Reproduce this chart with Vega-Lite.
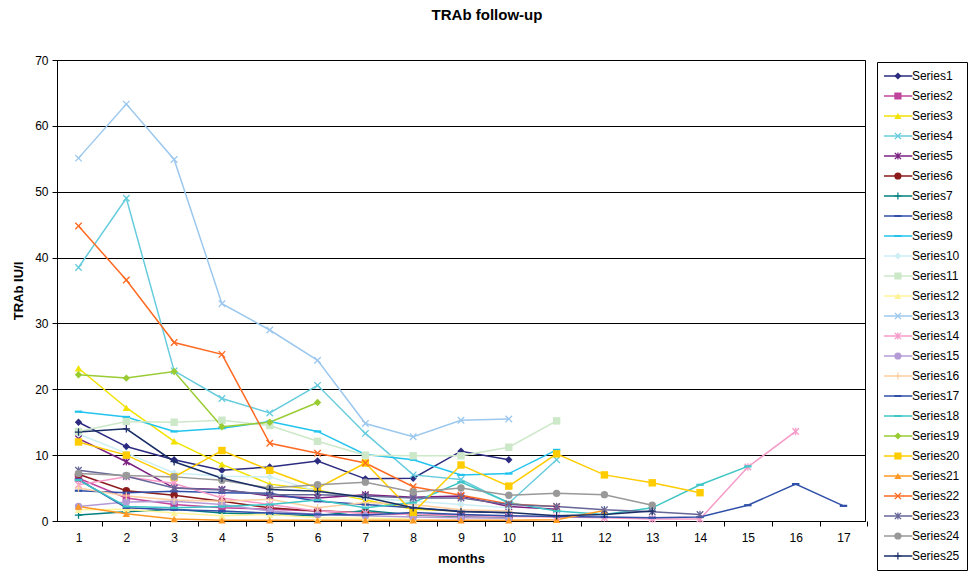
{
"$schema":"https://vega.github.io/schema/vega-lite/v6.json",
"autosize":"none",
"width":808,"height":461,
"padding":{"left":57,"top":60,"right":109,"bottom":51},
"background":"white",
"title":{"text":"TRAb follow-up","fontSize":15,"fontWeight":"bold","font":"Liberation Sans","anchor":"middle","dx":26,"offset":31,"color":"#000"},
"config":{"view":{"stroke":"#000","strokeWidth":1},"font":"Liberation Sans",
"legend":{"title":null,"orient":"none","legendX":820,"legendY":2,"padding":7,"labelFontSize":12,"labelColor":"#000","labelFont":"Liberation Sans","symbolSize":52,"rowPadding":6,"clipHeight":14,"labelOffset":8,"symbolOffset":7.9,"labelLimit":200}},
"datasets":{"d":[
{"s":"Series1","m":1,"v":15.0},{"s":"Series1","m":2,"v":11.3},{"s":"Series1","m":3,"v":9.3},{"s":"Series1","m":4,"v":7.7},{"s":"Series1","m":5,"v":8.2},{"s":"Series1","m":6,"v":9.1},{"s":"Series1","m":7,"v":6.4},{"s":"Series1","m":8,"v":6.5},{"s":"Series1","m":9,"v":10.6},{"s":"Series1","m":10,"v":9.3},
{"s":"Series2","m":1,"v":6.5},{"s":"Series2","m":2,"v":3.5},{"s":"Series2","m":3,"v":2.5},{"s":"Series2","m":4,"v":2.0},{"s":"Series2","m":5,"v":1.8},{"s":"Series2","m":6,"v":1.5},{"s":"Series2","m":7,"v":1.2},{"s":"Series2","m":8,"v":1.0},{"s":"Series2","m":9,"v":0.8},{"s":"Series2","m":10,"v":0.7},
{"s":"Series3","m":1,"v":23.2},{"s":"Series3","m":2,"v":17.2},{"s":"Series3","m":3,"v":12.1},{"s":"Series3","m":4,"v":8.6},{"s":"Series3","m":5,"v":5.6},{"s":"Series3","m":6,"v":4.7},{"s":"Series3","m":7,"v":3.2},{"s":"Series3","m":8,"v":1.8},{"s":"Series3","m":9,"v":1.5},
{"s":"Series4","m":1,"v":38.5},{"s":"Series4","m":2,"v":49.0},{"s":"Series4","m":3,"v":22.8},{"s":"Series4","m":4,"v":18.6},{"s":"Series4","m":5,"v":16.4},{"s":"Series4","m":6,"v":20.6},{"s":"Series4","m":7,"v":13.3},{"s":"Series4","m":8,"v":7.0},{"s":"Series4","m":9,"v":6.3},{"s":"Series4","m":10,"v":2.7},{"s":"Series4","m":11,"v":9.3},
{"s":"Series5","m":1,"v":12.5},{"s":"Series5","m":2,"v":9.0},{"s":"Series5","m":3,"v":5.0},{"s":"Series5","m":4,"v":4.8},{"s":"Series5","m":5,"v":3.8},{"s":"Series5","m":6,"v":3.5},{"s":"Series5","m":7,"v":4.0},{"s":"Series5","m":8,"v":3.6},{"s":"Series5","m":9,"v":3.8},{"s":"Series5","m":10,"v":2.2},{"s":"Series5","m":11,"v":1.8},
{"s":"Series6","m":1,"v":7.1},{"s":"Series6","m":2,"v":4.6},{"s":"Series6","m":3,"v":3.9},{"s":"Series6","m":4,"v":3.0},{"s":"Series6","m":5,"v":2.0},{"s":"Series6","m":6,"v":1.5},{"s":"Series6","m":7,"v":1.3},{"s":"Series6","m":8,"v":1.0},{"s":"Series6","m":9,"v":0.8},{"s":"Series6","m":10,"v":0.6},
{"s":"Series7","m":1,"v":0.9},{"s":"Series7","m":2,"v":1.4},{"s":"Series7","m":3,"v":1.8},{"s":"Series7","m":4,"v":1.2},{"s":"Series7","m":5,"v":1.0},{"s":"Series7","m":6,"v":0.8},{"s":"Series7","m":7,"v":1.6},{"s":"Series7","m":8,"v":0.9},{"s":"Series7","m":9,"v":0.7},{"s":"Series7","m":10,"v":0.6},
{"s":"Series8","m":1,"v":4.6},{"s":"Series8","m":2,"v":4.3},{"s":"Series8","m":3,"v":4.5},{"s":"Series8","m":4,"v":4.3},{"s":"Series8","m":5,"v":4.2},{"s":"Series8","m":6,"v":3.0},{"s":"Series8","m":7,"v":2.5},{"s":"Series8","m":8,"v":2.0},{"s":"Series8","m":9,"v":1.5},{"s":"Series8","m":10,"v":1.2},
{"s":"Series9","m":1,"v":16.6},{"s":"Series9","m":2,"v":15.8},{"s":"Series9","m":3,"v":13.6},{"s":"Series9","m":4,"v":14.1},{"s":"Series9","m":5,"v":15.1},{"s":"Series9","m":6,"v":13.6},{"s":"Series9","m":7,"v":10.1},{"s":"Series9","m":8,"v":9.3},{"s":"Series9","m":9,"v":7.0},{"s":"Series9","m":10,"v":7.2},{"s":"Series9","m":11,"v":10.8},
{"s":"Series10","m":1,"v":13.2},{"s":"Series10","m":2,"v":10.3},{"s":"Series10","m":3,"v":7.3},{"s":"Series10","m":4,"v":6.8},{"s":"Series10","m":5,"v":6.7},{"s":"Series10","m":6,"v":4.5},{"s":"Series10","m":7,"v":3.5},{"s":"Series10","m":8,"v":3.0},{"s":"Series10","m":9,"v":2.5},{"s":"Series10","m":10,"v":2.0},
{"s":"Series11","m":1,"v":13.6},{"s":"Series11","m":2,"v":15.1},{"s":"Series11","m":3,"v":15.0},{"s":"Series11","m":4,"v":15.3},{"s":"Series11","m":5,"v":14.5},{"s":"Series11","m":6,"v":12.1},{"s":"Series11","m":7,"v":10.0},{"s":"Series11","m":8,"v":9.9},{"s":"Series11","m":9,"v":9.9},{"s":"Series11","m":10,"v":11.2},{"s":"Series11","m":11,"v":15.2},
{"s":"Series12","m":1,"v":1.7},{"s":"Series12","m":2,"v":1.8},{"s":"Series12","m":3,"v":1.2},{"s":"Series12","m":4,"v":0.8},{"s":"Series12","m":5,"v":1.0},{"s":"Series12","m":6,"v":0.5},{"s":"Series12","m":7,"v":0.4},{"s":"Series12","m":8,"v":0.3},
{"s":"Series13","m":1,"v":55.1},{"s":"Series13","m":2,"v":63.3},{"s":"Series13","m":3,"v":54.9},{"s":"Series13","m":4,"v":33.0},{"s":"Series13","m":5,"v":29.0},{"s":"Series13","m":6,"v":24.4},{"s":"Series13","m":7,"v":14.8},{"s":"Series13","m":8,"v":12.8},{"s":"Series13","m":9,"v":15.3},{"s":"Series13","m":10,"v":15.5},
{"s":"Series14","m":1,"v":5.5},{"s":"Series14","m":2,"v":6.7},{"s":"Series14","m":3,"v":5.7},{"s":"Series14","m":4,"v":3.5},{"s":"Series14","m":5,"v":2.5},{"s":"Series14","m":6,"v":1.5},{"s":"Series14","m":7,"v":1.2},{"s":"Series14","m":8,"v":1.0},{"s":"Series14","m":9,"v":0.8},{"s":"Series14","m":10,"v":0.7},{"s":"Series14","m":11,"v":0.6},{"s":"Series14","m":12,"v":0.5},{"s":"Series14","m":13,"v":0.3},{"s":"Series14","m":14,"v":0.3},{"s":"Series14","m":15,"v":8.2},{"s":"Series14","m":16,"v":13.6},
{"s":"Series15","m":1,"v":2.2},{"s":"Series15","m":2,"v":2.9},{"s":"Series15","m":3,"v":3.0},{"s":"Series15","m":4,"v":2.5},{"s":"Series15","m":5,"v":1.5},{"s":"Series15","m":6,"v":1.0},{"s":"Series15","m":7,"v":0.8},{"s":"Series15","m":8,"v":0.6},{"s":"Series15","m":9,"v":0.5},{"s":"Series15","m":10,"v":0.4},
{"s":"Series16","m":1,"v":5.0},{"s":"Series16","m":2,"v":3.8},{"s":"Series16","m":3,"v":3.2},{"s":"Series16","m":4,"v":3.0},{"s":"Series16","m":5,"v":3.3},{"s":"Series16","m":6,"v":2.0},{"s":"Series16","m":7,"v":2.8},{"s":"Series16","m":8,"v":2.5},{"s":"Series16","m":9,"v":1.7},{"s":"Series16","m":10,"v":1.5},
{"s":"Series17","m":1,"v":6.3},{"s":"Series17","m":2,"v":2.0},{"s":"Series17","m":3,"v":1.7},{"s":"Series17","m":4,"v":1.5},{"s":"Series17","m":5,"v":1.2},{"s":"Series17","m":6,"v":1.0},{"s":"Series17","m":7,"v":0.9},{"s":"Series17","m":8,"v":1.3},{"s":"Series17","m":9,"v":1.0},{"s":"Series17","m":10,"v":0.8},{"s":"Series17","m":11,"v":0.7},{"s":"Series17","m":12,"v":0.6},{"s":"Series17","m":13,"v":0.5},{"s":"Series17","m":14,"v":0.6},{"s":"Series17","m":15,"v":2.4},{"s":"Series17","m":16,"v":5.6},{"s":"Series17","m":17,"v":2.3},
{"s":"Series18","m":1,"v":6.2},{"s":"Series18","m":2,"v":2.2},{"s":"Series18","m":3,"v":2.0},{"s":"Series18","m":4,"v":2.2},{"s":"Series18","m":5,"v":2.5},{"s":"Series18","m":6,"v":3.2},{"s":"Series18","m":7,"v":2.0},{"s":"Series18","m":8,"v":2.8},{"s":"Series18","m":9,"v":5.9},{"s":"Series18","m":10,"v":2.8},{"s":"Series18","m":11,"v":1.5},{"s":"Series18","m":12,"v":1.0},{"s":"Series18","m":13,"v":2.0},{"s":"Series18","m":14,"v":5.5},{"s":"Series18","m":15,"v":8.3},
{"s":"Series19","m":1,"v":22.2},{"s":"Series19","m":2,"v":21.7},{"s":"Series19","m":3,"v":22.7},{"s":"Series19","m":4,"v":14.3},{"s":"Series19","m":5,"v":15.0},{"s":"Series19","m":6,"v":18.0},
{"s":"Series20","m":1,"v":12.0},{"s":"Series20","m":2,"v":10.0},{"s":"Series20","m":3,"v":6.7},{"s":"Series20","m":4,"v":10.7},{"s":"Series20","m":5,"v":7.7},{"s":"Series20","m":6,"v":5.0},{"s":"Series20","m":7,"v":8.8},{"s":"Series20","m":8,"v":1.3},{"s":"Series20","m":9,"v":8.5},{"s":"Series20","m":10,"v":5.3},{"s":"Series20","m":11,"v":10.2},{"s":"Series20","m":12,"v":7.0},{"s":"Series20","m":13,"v":5.8},{"s":"Series20","m":14,"v":4.3},
{"s":"Series21","m":1,"v":2.2},{"s":"Series21","m":2,"v":1.1},{"s":"Series21","m":3,"v":0.3},{"s":"Series21","m":4,"v":0.1},{"s":"Series21","m":5,"v":0.1},{"s":"Series21","m":6,"v":0.1},{"s":"Series21","m":7,"v":0.1},{"s":"Series21","m":8,"v":0.1},{"s":"Series21","m":9,"v":0.1},{"s":"Series21","m":10,"v":0.1},{"s":"Series21","m":11,"v":0.2},{"s":"Series21","m":12,"v":1.6},
{"s":"Series22","m":1,"v":44.8},{"s":"Series22","m":2,"v":36.6},{"s":"Series22","m":3,"v":27.1},{"s":"Series22","m":4,"v":25.3},{"s":"Series22","m":5,"v":11.8},{"s":"Series22","m":6,"v":10.3},{"s":"Series22","m":7,"v":8.8},{"s":"Series22","m":8,"v":5.2},{"s":"Series22","m":9,"v":3.9},{"s":"Series22","m":10,"v":2.6},{"s":"Series22","m":11,"v":2.2},
{"s":"Series23","m":1,"v":7.7},{"s":"Series23","m":2,"v":6.8},{"s":"Series23","m":3,"v":5.0},{"s":"Series23","m":4,"v":4.7},{"s":"Series23","m":5,"v":4.0},{"s":"Series23","m":6,"v":4.0},{"s":"Series23","m":7,"v":3.8},{"s":"Series23","m":8,"v":3.5},{"s":"Series23","m":9,"v":3.5},{"s":"Series23","m":10,"v":2.5},{"s":"Series23","m":11,"v":2.2},{"s":"Series23","m":12,"v":1.7},{"s":"Series23","m":13,"v":1.4},{"s":"Series23","m":14,"v":1.0},
{"s":"Series24","m":1,"v":7.2},{"s":"Series24","m":2,"v":6.9},{"s":"Series24","m":3,"v":6.7},{"s":"Series24","m":4,"v":6.2},{"s":"Series24","m":5,"v":5.0},{"s":"Series24","m":6,"v":5.5},{"s":"Series24","m":7,"v":5.9},{"s":"Series24","m":8,"v":4.4},{"s":"Series24","m":9,"v":5.0},{"s":"Series24","m":10,"v":3.9},{"s":"Series24","m":11,"v":4.2},{"s":"Series24","m":12,"v":4.0},{"s":"Series24","m":13,"v":2.4},
{"s":"Series25","m":1,"v":13.5},{"s":"Series25","m":2,"v":14.0},{"s":"Series25","m":3,"v":9.0},{"s":"Series25","m":4,"v":6.5},{"s":"Series25","m":5,"v":4.8},{"s":"Series25","m":6,"v":4.5},{"s":"Series25","m":7,"v":3.6},{"s":"Series25","m":8,"v":2.0},{"s":"Series25","m":9,"v":1.4},{"s":"Series25","m":10,"v":1.3},{"s":"Series25","m":11,"v":0.8},{"s":"Series25","m":12,"v":1.0},{"s":"Series25","m":13,"v":1.5}
]},
"data":{"name":"d"},
"encoding":{
"x":{"field":"m","type":"quantitative","title":"months","scale":{"domain":[0.55,17.45],"nice":false,"zero":false},
"axis":{"values":[1,2,3,4,5,6,7,8,9,10,11,12,13,14,15,16,17],"grid":false,"tickOffset":23.9,"labelOffset":-23.9,"tickSize":5,"tickColor":"#000","domainColor":"#000","labelFontSize":12,"labelColor":"#000","labelPadding":6,"titleFontSize":13,"titleFontWeight":"bold","titleColor":"#000","titlePadding":9,"labelFont":"Liberation Sans","titleFont":"Liberation Sans"}},
"y":{"field":"v","type":"quantitative","title":"TRAb IU/l","scale":{"domain":[0,70],"nice":false},
"axis":{"values":[0,10,20,30,40,50,60,70],"grid":true,"gridColor":"#000","gridOpacity":1,"gridWidth":1,"tickSize":5,"tickColor":"#000","domainColor":"#000","labelFontSize":12,"labelColor":"#000","labelPadding":4,"titleFontSize":13,"titleFontWeight":"bold","titleColor":"#000","titlePadding":9,"labelFont":"Liberation Sans","titleFont":"Liberation Sans"}}
},
"layer":[
{"mark":{"type":"line","strokeWidth":1.5},
"encoding":{"stroke":{"field":"s","type":"nominal",
"legend":{"values":["Series1","Series2","Series3","Series4","Series5","Series6","Series7","Series8","Series9","Series10","Series11","Series12","Series13","Series14","Series15","Series16","Series17","Series18","Series19","Series20","Series21","Series22","Series23","Series24","Series25"],"symbolType":"M-4,0L4,0","symbolStrokeWidth":1.5,"strokeColor":"#000"},
"scale":{"domain":["Series1","Series2","Series3","Series4","Series5","Series6","Series7","Series8","Series9","Series10","Series11","Series12","Series13","Series14","Series15","Series16","Series17","Series18","Series19","Series20","Series21","Series22","Series23","Series24","Series25","zz"],
"range":["#2B2B80","#C0449C","#F2E200","#66CCDD","#7B2080","#8B1A1A","#007F7F","#2F4FA8","#22C4EE","#CCEEF5","#CCE8C8","#FFF39A","#9CC8EE","#F79AC8","#B39CD6","#FCCFA0","#2F4FA8","#3EC6C6","#99CC33","#FFCC00","#FF9922","#FF6A22","#666699","#999999","#1A2E66","#000000"]}}}},
{"mark":{"type":"point","filled":true,"size":55,"opacity":1},
"encoding":{
"fill":{"field":"s","type":"nominal",
"legend":{"labelOpacity":0},
"scale":{"domain":["Series1","Series2","Series3","Series4","Series5","Series6","Series7","Series8","Series9","Series10","Series11","Series12","Series13","Series14","Series15","Series16","Series17","Series18","Series19","Series20","Series21","Series22","Series23","Series24","Series25"],
"range":["#2B2B80","#C0449C","#F2E200","#66CCDD","#7B2080","#8B1A1A","#007F7F","#2F4FA8","#22C4EE","#CCEEF5","#CCE8C8","#FFF39A","#9CC8EE","#F79AC8","#B39CD6","#FCCFA0","#2F4FA8","#3EC6C6","#99CC33","#FFCC00","#FF9922","#FF6A22","#666699","#999999","#1A2E66"]}},
"shape":{"field":"s","type":"nominal",
"legend":{"labelOpacity":0},
"scale":{"domain":["Series1","Series2","Series3","Series4","Series5","Series6","Series7","Series8","Series9","Series10","Series11","Series12","Series13","Series14","Series15","Series16","Series17","Series18","Series19","Series20","Series21","Series22","Series23","Series24","Series25"],
"range":["diamond","square","triangle-up",
"M-1,-0.75L-0.75,-1L0,-0.25L0.75,-1L1,-0.75L0.25,0L1,0.75L0.75,1L0,0.25L-0.75,1L-1,0.75L-0.25,0Z",
"M-1,-0.75L-0.75,-1L0,-0.25L0.75,-1L1,-0.75L0.25,0L1,0.75L0.75,1L0,0.25L-0.75,1L-1,0.75L-0.25,0ZM-0.17,-1L0.17,-1L0.17,1L-0.17,1Z",
"circle",
"M-1,-0.17L-0.17,-0.17L-0.17,-1L0.17,-1L0.17,-0.17L1,-0.17L1,0.17L0.17,0.17L0.17,1L-0.17,1L-0.17,0.17L-1,0.17Z",
"M-1,-0.3L1,-0.3L1,0.3L-1,0.3Z","M-1,-0.3L1,-0.3L1,0.3L-1,0.3Z",
"diamond","square","triangle-up",
"M-1,-0.75L-0.75,-1L0,-0.25L0.75,-1L1,-0.75L0.25,0L1,0.75L0.75,1L0,0.25L-0.75,1L-1,0.75L-0.25,0Z",
"M-1,-0.75L-0.75,-1L0,-0.25L0.75,-1L1,-0.75L0.25,0L1,0.75L0.75,1L0,0.25L-0.75,1L-1,0.75L-0.25,0ZM-0.17,-1L0.17,-1L0.17,1L-0.17,1Z",
"circle",
"M-1,-0.17L-0.17,-0.17L-0.17,-1L0.17,-1L0.17,-0.17L1,-0.17L1,0.17L0.17,0.17L0.17,1L-0.17,1L-0.17,0.17L-1,0.17Z",
"M-1,-0.3L1,-0.3L1,0.3L-1,0.3Z","M-1,-0.3L1,-0.3L1,0.3L-1,0.3Z",
"diamond","square","triangle-up",
"M-1,-0.75L-0.75,-1L0,-0.25L0.75,-1L1,-0.75L0.25,0L1,0.75L0.75,1L0,0.25L-0.75,1L-1,0.75L-0.25,0Z",
"M-1,-0.75L-0.75,-1L0,-0.25L0.75,-1L1,-0.75L0.25,0L1,0.75L0.75,1L0,0.25L-0.75,1L-1,0.75L-0.25,0ZM-0.17,-1L0.17,-1L0.17,1L-0.17,1Z",
"circle",
"M-1,-0.17L-0.17,-0.17L-0.17,-1L0.17,-1L0.17,-0.17L1,-0.17L1,0.17L0.17,0.17L0.17,1L-0.17,1L-0.17,0.17L-1,0.17Z"]}}
}}
]
}
